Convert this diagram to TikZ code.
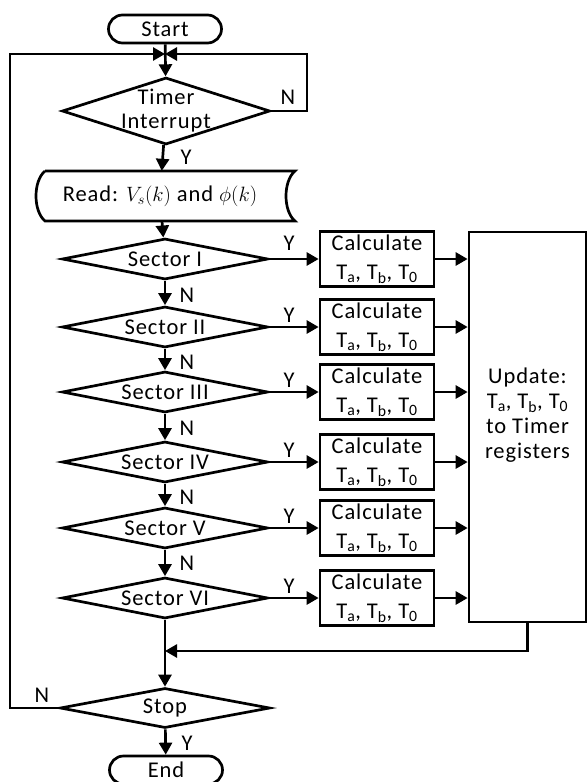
\documentclass[tikz,border=0pt]{standalone}
\usepackage{fontspec}
\setmainfont{Carlito}[LetterSpace=4]
\usetikzlibrary{arrows.meta,shapes.geometric,shapes.misc}
\begin{document}
\begin{tikzpicture}[x=1pt,y=-1pt,
 every node/.style={font=\fontsize{22.5}{26}\selectfont, inner sep=0pt},
 ln/.style={line width=2.7pt},
 arr/.style={ln,-{Triangle[length=12pt,width=13pt]}},
 dia/.style={draw,ln,diamond,shape aspect=5,minimum width=206pt,minimum height=41pt},
 term/.style={draw,ln,rounded rectangle,minimum width=113pt,minimum height=28pt},
 calc/.style={draw,ln,rectangle,minimum width=114pt,minimum height=55pt,align=center,font=\fontsize{22.5}{29}\selectfont},
 lab/.style={font=\fontsize{22.5}{26}\selectfont}
]
\useasboundingbox (0,0) rectangle (587,782);

% terminals
\node[term] (start) at (165,29) {Start};
\node[term] (end) at (166,770) {End};

% timer decision
\node[dia,minimum width=208pt,minimum height=67pt,
  label={[align=center,font=\fontsize{22.5}{24}\selectfont]center:Timer\\Interrupt}] (timer) at (166,111) {};

% read block
\node[minimum width=250pt,minimum height=50pt] (read) at (160,196) {Read: $V_s(k)$ and $\phi(k)$};
\draw[ln] (45,171) -- (295,171) .. controls (283,181) and (283,211) .. (295,221)
  -- (45,221) .. controls (33,211) and (33,181) .. (45,171);

% sectors
\node[dia] (s1) at (165,259) {Sector I};
\node[dia] (s2) at (165,327) {Sector II};
\node[dia] (s3) at (165,392) {Sector III};
\node[dia] (s4) at (165,462) {Sector IV};
\node[dia] (s5) at (165,528) {Sector V};
\node[dia] (s6) at (165,598) {Sector VI};

% calculate boxes
\foreach \i in {1,...,6}{
  \node[calc] (c\i) at (377,0 |- s\i) {Calculate\\T\textsubscript{a}, T\textsubscript{b}, T\textsubscript{0}};
}

% update box
\node[draw,ln,minimum width=117pt,minimum height=390pt] (upd) at (527.5,427) {};
\node[align=center,font=\fontsize{22.5}{25}\selectfont] (updt) at (527.5,415)
  {Update:\\T\textsubscript{a}, T\textsubscript{b}, T\textsubscript{0}\\to Timer\\registers};

% stop decision
\node[dia,minimum width=210pt,minimum height=40pt] (stop) at (165,708) {Stop};

% junction points
\coordinate (j) at (165,54);
\coordinate (m) at (165,651);

% connectors
\draw[arr] (start) -- (timer);
\draw[arr] (timer.east) -- (307,111) -- (307,54) -- (j);
\draw[arr] (stop.west) -- (10,708) -- (10,54) -- (j);
\draw[arr] (timer) -- (read);
\draw[arr] (read) -- (s1);
\draw[arr] (s1) -- (s2);
\draw[arr] (s2) -- (s3);
\draw[arr] (s3) -- (s4);
\draw[arr] (s4) -- (s5);
\draw[arr] (s5) -- (s6);
\draw[arr] (s6) -- (stop);
\draw[arr] (upd.south) -- (upd.south |- m) -- (m);
\foreach \i in {1,...,6}{
  \draw[arr] (s\i.east) -- (c\i.west);
  \draw[arr] (c\i.east) -- (upd.west |- c\i.east);
}
\draw[arr] (stop) -- (end);

% labels
\node[lab] (nt) at (288,97) {N};
\node[lab] (yt) at (186,157) {Y};
\node[lab] (n1) at (187,295) {N};
\node[lab] (n2) at (187,362) {N};
\node[lab] (n3) at (187,428) {N};
\node[lab] (n4) at (187,497) {N};
\node[lab] (n5) at (187,563) {N};
\node[lab] (ys) at (187,743) {Y};
\node[lab] (ns) at (42,695) {N};
\node[lab] (y1) at (289,243) {Y};
\node[lab] (y2) at (289,315) {Y};
\node[lab] (y3) at (289,380) {Y};
\node[lab] (y4) at (289,450) {Y};
\node[lab] (y5) at (289,516) {Y};
\node[lab] (y6) at (289,586) {Y};
\end{tikzpicture}
\end{document}
